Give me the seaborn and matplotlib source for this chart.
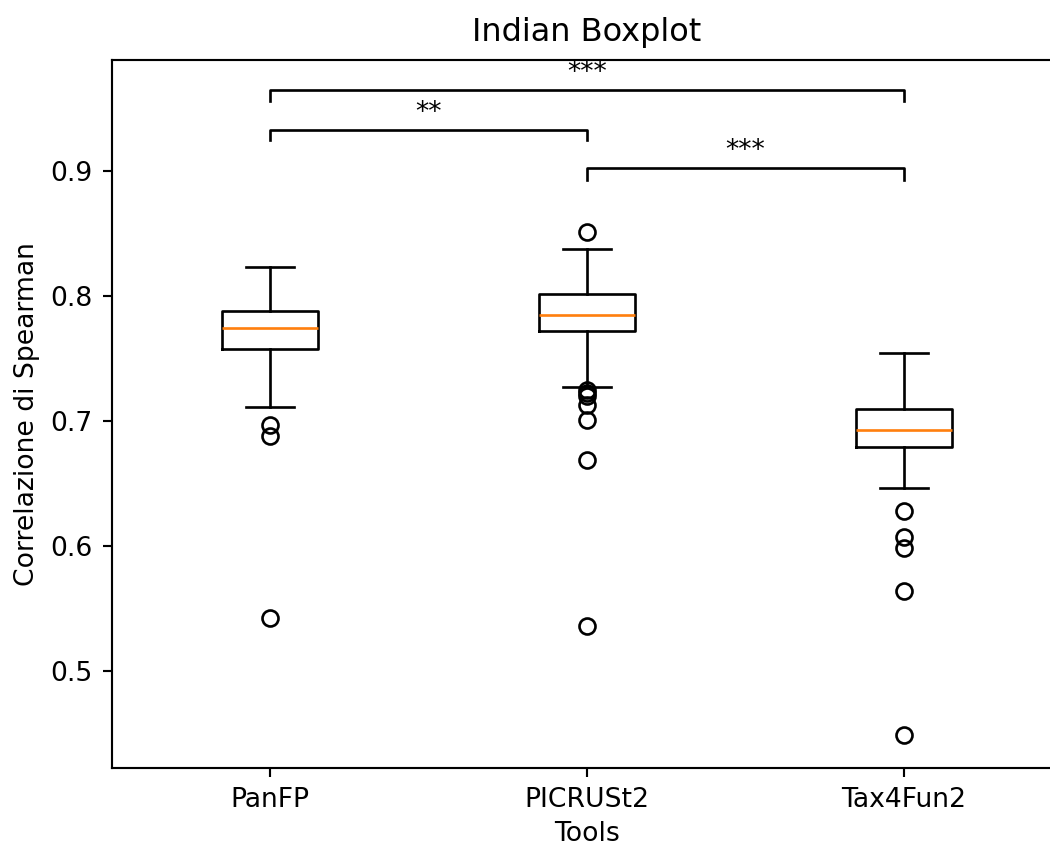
import matplotlib
matplotlib.use("Agg")
import matplotlib.pyplot as plt
import seaborn as sns

sns.reset_defaults()
plt.rcParams['font.family'] = ['DejaVu Sans']

# ---- data ----
tools = ["PanFP", "PICRUSt2", "Tax4Fun2"]
whisker_low = [0.7112, 0.7272, 0.6464]
q1 = [0.7576, 0.7720, 0.6792]
median = [0.7744, 0.7848, 0.6928]
q3 = [0.7880, 0.8016, 0.7096]
whisker_high = [0.8232, 0.8376, 0.7544]
outliers_panfp = [0.6968, 0.6880, 0.5424]
outliers_picrust2 = [0.8512, 0.7248, 0.7224, 0.7200, 0.7128, 0.7008, 0.6688, 0.5360]
outliers_tax4fun2 = [0.6280, 0.6072, 0.5984, 0.5640, 0.4488]
outliers = [outliers_panfp, outliers_picrust2, outliers_tax4fun2]

# significance brackets: (group i, group j, top y, bottom y, label)
pair_left = [1, 1, 2]
pair_right = [3, 2, 3]
bracket_top = [0.9648, 0.9328, 0.9024]
bracket_bottom = [0.9560, 0.9248, 0.8928]
bracket_label = ["***", "**", "***"]

# ---- figure ----
dpi = 191.7
fig = plt.figure(figsize=(1050 / dpi, 846 / dpi), dpi=dpi)
ax = fig.add_axes([111.5 / 1050, 78 / 846, 951 / 1050, 708 / 846])

stats = []
for i, name in enumerate(tools):
    stats.append(dict(label=name, whislo=whisker_low[i], q1=q1[i], med=median[i],
                      q3=q3[i], whishi=whisker_high[i], fliers=outliers[i]))
ax.bxp(stats, positions=[1, 2, 3], widths=0.3)
ax.set_xlim(0.5, 3.5)
ax.set_ylim(0.4224, 0.9888)

for a, b, top, bot, lab in zip(pair_left, pair_right, bracket_top, bracket_bottom, bracket_label):
    ax.plot([a, a, b, b], [bot, top, top, bot], color="black", lw=1.0)
    ax.annotate(lab, xy=((a + b) / 2, top), xytext=(0, 1.5), textcoords="offset points",
                ha="center", va="bottom", fontsize=10)

ax.set_title("Indian Boxplot", pad=7)
ax.set_xlabel("Tools", labelpad=3.2)
ax.set_ylabel("Correlazione di Spearman")
ax.set_yticks([0.5, 0.6, 0.7, 0.8, 0.9])

fig.savefig("out.png", dpi=dpi)
